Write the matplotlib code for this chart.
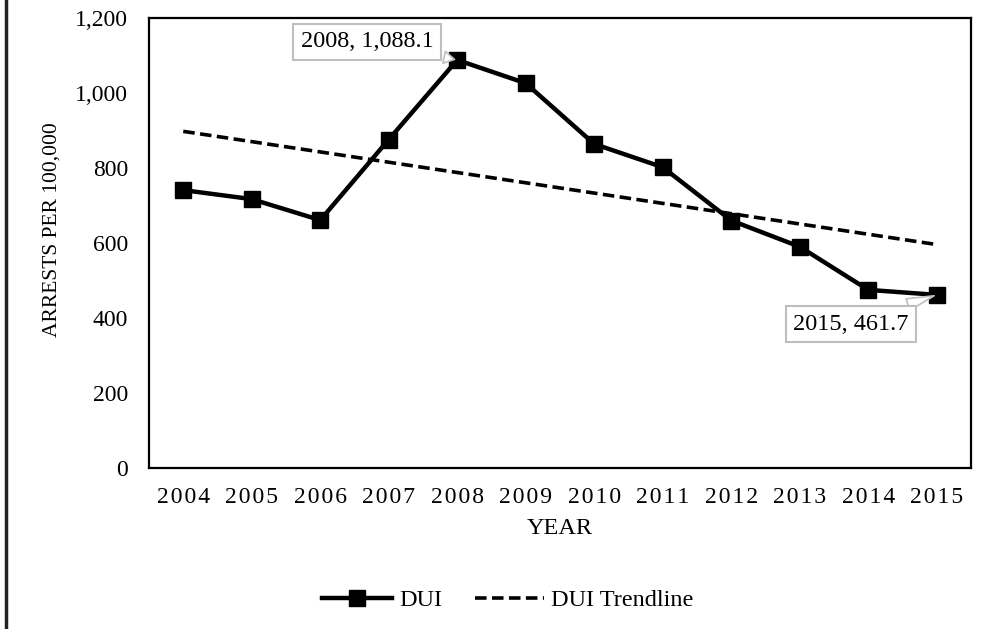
import numpy as np
import matplotlib
matplotlib.use("Agg")
import matplotlib.pyplot as plt
from matplotlib.lines import Line2D

plt.rcParams['font.family'] = ['Liberation Serif', 'DejaVu Serif']

years = [2004, 2005, 2006, 2007, 2008, 2009, 2010, 2011, 2012, 2013, 2014, 2015]
dui_rate = [741, 717, 661, 876, 1088.1, 1026, 864, 802, 660, 590, 475, 461.7]
labelled_years = [2008, 2015]
y_ticks = [0, 200, 400, 600, 800, 1000, 1200]

W, H = 992, 629
fig = plt.figure(figsize=(W / 100, H / 100), dpi=100)
ax = fig.add_axes([149 / W, 1 - 468 / H, 822 / W, 450 / H])

x = np.arange(len(years))
y = np.array(dui_rate)

# linear least-squares trendline
slope, intercept = np.polyfit(x, y, 1)
trend = slope * x + intercept

ax.plot(x, y, color='black', lw=3.2, marker='s', markersize=11.5,
        markerfacecolor='black', markeredgecolor='black', label='DUI', zorder=3)
ax.plot(x, trend, color='black', lw=2.6, ls=(0, (3.2, 1.5)),
        label='DUI Trendline', zorder=2)

ax.set_xlim(-0.5, len(years) - 0.5)
ax.set_ylim(0, 1200)
ax.set_yticks(y_ticks)
ax.set_yticklabels([f"{v:,}" for v in y_ticks])
ax.set_xticks(x)
ax.set_xticklabels(['\u200a'.join(str(yr)) for yr in years])
ax.tick_params(axis='both', length=0, labelsize=17)
ax.tick_params(axis='y', pad=15)
ax.tick_params(axis='x', pad=13.5)
for s in ax.spines.values():
    s.set_linewidth(1.6)
    s.set_color('black')

fig.text(560 / W, 1 - 528.5 / H, 'YEAR', fontsize=17.5, ha='center', va='center')
fig.text(52 / W, 1 - 230 / H, 'ARRESTS PER 100,000', fontsize=15.5,
         rotation=90, ha='center', va='center')

# callout data labels
offsets = {2008: (-65, 13), 2015: (-62, -21)}
for yr in labelled_years:
    i = years.index(yr)
    ax.annotate(f"{yr}, {dui_rate[i]:,.1f}", xy=(i, dui_rate[i]),
                xytext=offsets[yr], textcoords='offset points',
                ha='center', va='center', fontsize=17.5, zorder=5,
                bbox=dict(boxstyle='square,pad=0.3', fc='white', ec='#BFBFBF', lw=1.5),
                arrowprops=dict(arrowstyle='wedge,tail_width=0.5,shrink_factor=0.5',
                                fc='white', ec='#BFBFBF', lw=1.2))

fig.legend(loc='center', bbox_to_anchor=(508 / W, 1 - 600 / H), ncol=2,
           frameon=False, fontsize=17.5, handlelength=2.85, handletextpad=0.3,
           columnspacing=1.35)

# chart frame edge on the left
fig.add_artist(Line2D([5.5 / W, 5.5 / W], [0, 1], color='#222222', lw=2.5,
                      transform=fig.transFigure))

fig.savefig('out.png', dpi=100)
